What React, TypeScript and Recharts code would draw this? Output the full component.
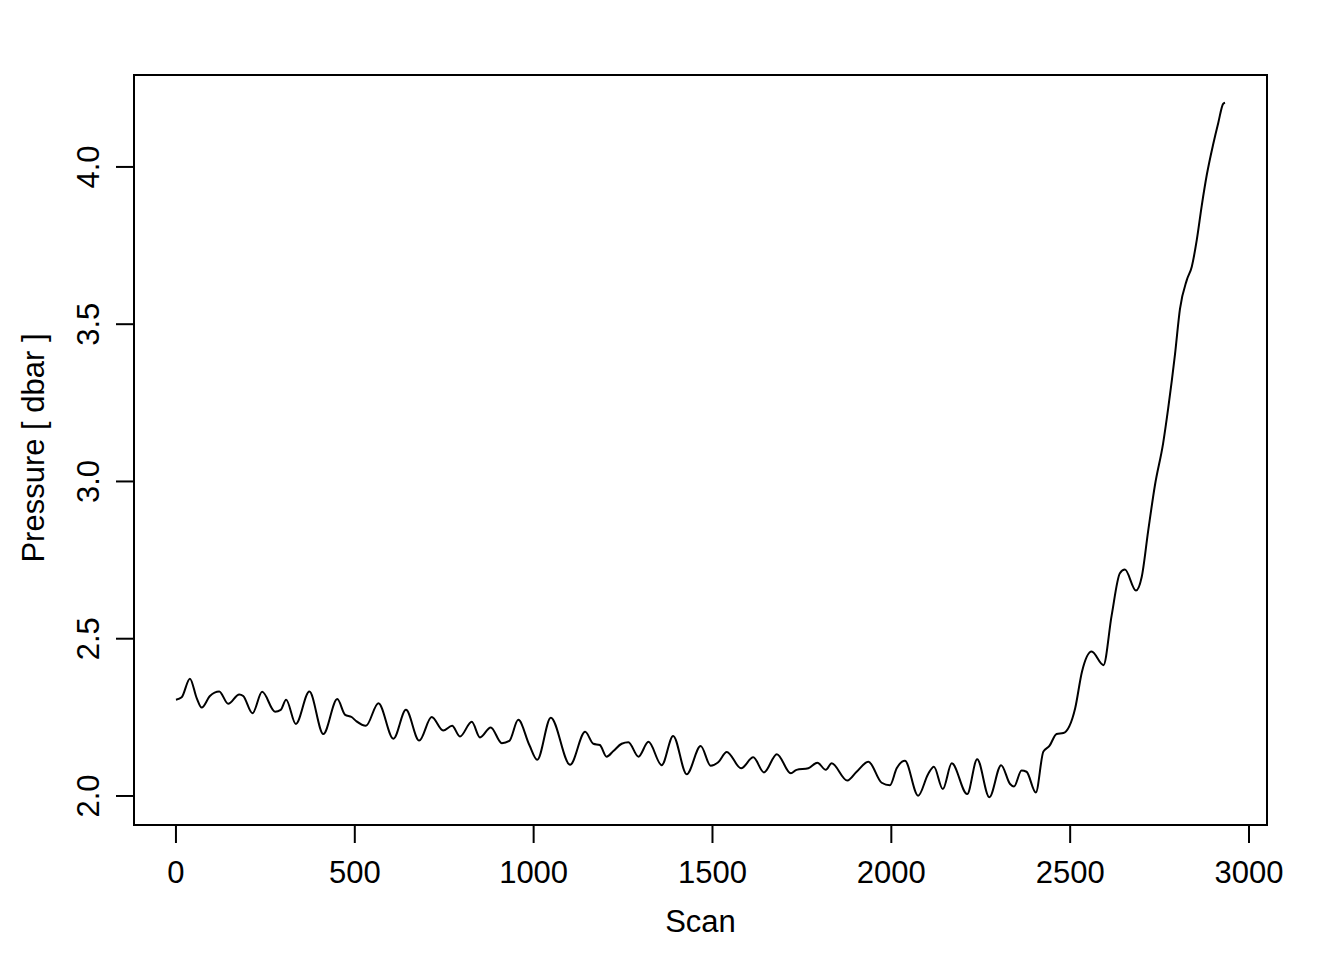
import { LineChart, Line, XAxis, YAxis, ReferenceArea, Label } from "recharts";

// scan index and pressure [dbar]
const scans = [
  0, 16, 39, 58, 72, 95, 121, 146, 177, 188, 214, 241, 277, 293, 308, 335, 373,
  412, 451, 473, 491, 505, 531, 566, 608, 643, 680, 715, 747, 772, 794, 827,
  850, 880, 911, 932, 957, 988, 1010, 1048, 1102, 1144, 1167, 1185, 1204, 1223,
  1246, 1265, 1293, 1321, 1358, 1390, 1428, 1467, 1495, 1516, 1540, 1580, 1614,
  1644, 1680, 1719, 1735, 1768, 1793, 1817, 1833, 1877, 1903, 1936, 1973, 1996,
  2015, 2038, 2075, 2103, 2119, 2144, 2169, 2212, 2240, 2274, 2307, 2332, 2343,
  2364, 2378, 2404, 2425, 2442, 2462, 2481, 2514, 2533, 2560, 2593, 2616, 2639,
  2653, 2684, 2700, 2718, 2737, 2760, 2774, 2793, 2807, 2826, 2840, 2854, 2868,
  2882, 2900, 2914, 2928, 2933,
];
const pressure = [
  2.306, 2.314, 2.373, 2.311, 2.281, 2.318, 2.332, 2.293, 2.323, 2.318, 2.263,
  2.331, 2.268, 2.274, 2.306, 2.229, 2.332, 2.197, 2.308, 2.258, 2.251, 2.237,
  2.223, 2.295, 2.182, 2.274, 2.176, 2.251, 2.208, 2.223, 2.189, 2.236, 2.186,
  2.218, 2.168, 2.175, 2.242, 2.162, 2.115, 2.249, 2.099, 2.204, 2.166, 2.162,
  2.125, 2.143, 2.166, 2.171, 2.125, 2.172, 2.098, 2.191, 2.069, 2.159, 2.096,
  2.107, 2.14, 2.088, 2.123, 2.075, 2.133, 2.072, 2.083, 2.088, 2.106, 2.083,
  2.104, 2.049, 2.077, 2.109, 2.042, 2.034, 2.088, 2.112, 2.001, 2.07, 2.093,
  2.022, 2.104, 2.006, 2.117, 1.996, 2.098, 2.038, 2.03, 2.081, 2.077, 2.011,
  2.141, 2.159, 2.197, 2.2, 2.279, 2.395, 2.459, 2.416, 2.574, 2.708, 2.72,
  2.653, 2.696, 2.842, 2.988, 3.122, 3.232, 3.403, 3.549, 3.64, 3.683, 3.768,
  3.878, 3.975, 4.073, 4.14, 4.201, 4.204,
];

const xTicks = [0, 500, 1000, 1500, 2000, 2500, 3000];
const yTicks = [2.0, 2.5, 3.0, 3.5, 4.0];

const data = scans.map((s, i) => ({ scan: s, p: pressure[i] }));

const FONT = "'Liberation Sans', Arial, Helvetica, sans-serif";
const FS = 31;
const X_DOMAIN: [number, number] = [-117.3, 3050.3];
const Y_DOMAIN: [number, number] = [1.9077, 4.2923];

const XTick = (props: any) => {
  const { x, payload } = props;
  return (
    <text x={x} y={883} textAnchor="middle" fontFamily={FONT} fontSize={FS} fill="#000">
      {payload.value}
    </text>
  );
};

const YTick = (props: any) => {
  const { y, payload } = props;
  return (
    <text
      x={99}
      y={y}
      transform={`rotate(-90, 99, ${y})`}
      textAnchor="middle"
      fontFamily={FONT}
      fontSize={FS}
      fill="#000"
    >
      {Number(payload.value).toFixed(1)}
    </text>
  );
};

export default function App() {
  return (
    <div style={{ position: "absolute", left: 0, top: 0, background: "#fff" }}>
      <LineChart
        width={1344}
        height={960}
        data={data}
        margin={{ top: 75, right: 77, bottom: 15, left: 14 }}
      >
        <XAxis
          dataKey="scan"
          type="number"
          domain={X_DOMAIN}
          ticks={xTicks}
          allowDataOverflow
          height={120}
          axisLine={false}
          tickSize={18}
          tickLine={{ stroke: "#000", strokeWidth: 2 }}
          tick={<XTick />}
        >
          <Label
            content={() => (
              <text x={700.5} y={932} textAnchor="middle" fontFamily={FONT} fontSize={FS} fill="#000">
                Scan
              </text>
            )}
          />
        </XAxis>
        <YAxis
          type="number"
          domain={Y_DOMAIN}
          ticks={yTicks}
          allowDataOverflow
          width={120}
          axisLine={false}
          tickSize={18}
          tickLine={{ stroke: "#000", strokeWidth: 2 }}
          tick={<YTick />}
        >
          <Label
            content={() => (
              <text
                x={44}
                y={448}
                transform="rotate(-90, 44, 448)"
                textAnchor="middle"
                fontFamily={FONT}
                fontSize={FS}
                fill="#000"
              >
                Pressure [ dbar ]
              </text>
            )}
          />
        </YAxis>
        <ReferenceArea
          x1={X_DOMAIN[0]}
          x2={X_DOMAIN[1]}
          y1={Y_DOMAIN[0]}
          y2={Y_DOMAIN[1]}
          fill="none"
          stroke="#000"
          strokeWidth={2}
          ifOverflow="visible"
        />
        <Line
          dataKey="p"
          type="monotone"
          stroke="#000"
          strokeWidth={2}
          dot={false}
          isAnimationActive={false}
        />
      </LineChart>
    </div>
  );
}
